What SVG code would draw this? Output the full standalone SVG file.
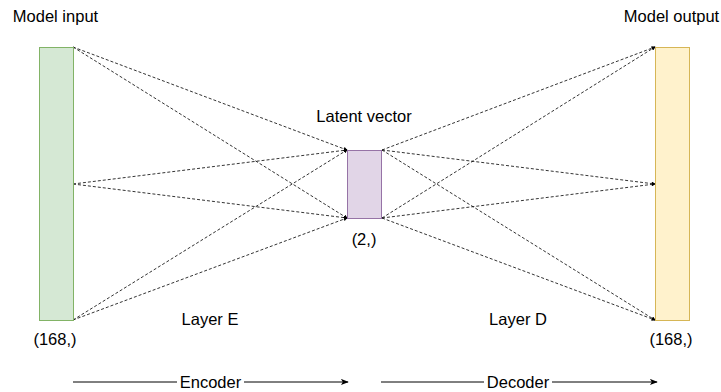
<svg xmlns="http://www.w3.org/2000/svg" width="721" height="392" viewBox="0 0 721 392">
<defs>
<marker id="sm" viewBox="0 0 6 6" refX="5" refY="3" markerWidth="4" markerHeight="4" orient="auto" markerUnits="userSpaceOnUse"><path d="M0,0 L6,3 L0,6 Z" fill="#000"/></marker>
<marker id="ar" viewBox="0 0 10 8" refX="9" refY="4" markerWidth="8" markerHeight="7" orient="auto" markerUnits="userSpaceOnUse"><path d="M0,0 L10,4 L0,8 L2.5,4 Z" fill="#000"/></marker>
<style>
text{font-family:"Liberation Sans",Arial,sans-serif;font-size:16.5px;fill:#000}
.d{stroke:#000;stroke-width:0.8;stroke-dasharray:3 2;fill:none;marker-end:url(#sm)}
.s{stroke:#000;stroke-width:1;fill:none;marker-end:url(#ar)}
</style>
</defs>
<rect width="721" height="392" fill="#fff"/>
<g id="connectors">
<line class="d" x1="73" y1="47" x2="347" y2="150"/>
<line class="d" x1="73" y1="47" x2="347" y2="218"/>
<line class="d" x1="73" y1="184" x2="347" y2="150"/>
<line class="d" x1="73" y1="184" x2="347" y2="218"/>
<line class="d" x1="73" y1="320" x2="347" y2="150"/>
<line class="d" x1="73" y1="320" x2="347" y2="218"/>
<line class="d" x1="382" y1="150" x2="655" y2="47"/>
<line class="d" x1="382" y1="150" x2="655" y2="184"/>
<line class="d" x1="382" y1="150" x2="655" y2="320"/>
<line class="d" x1="382" y1="218" x2="655" y2="47"/>
<line class="d" x1="382" y1="218" x2="655" y2="184"/>
<line class="d" x1="382" y1="218" x2="655" y2="320"/>
</g>
<g id="input">
<rect x="39.5" y="47.5" width="34" height="273" fill="#d5e8d4" stroke="#82b366"/>
<text x="55.5" y="22" text-anchor="middle">Model input</text>
<text x="55" y="345" text-anchor="middle">(168,)</text>
</g>
<g id="latent">
<rect x="347.5" y="150.5" width="34" height="68" fill="#e1d5e7" stroke="#9673a6"/>
<text x="364" y="122" text-anchor="middle">Latent vector</text>
<text x="364" y="245" text-anchor="middle">(2,)</text>
</g>
<g id="output">
<rect x="655.5" y="47.5" width="34" height="273" fill="#fff2cc" stroke="#d6b656"/>
<text x="671.5" y="22" text-anchor="middle">Model output</text>
<text x="671" y="345" text-anchor="middle">(168,)</text>
</g>
<g id="layerE"><text x="210" y="325" text-anchor="middle">Layer E</text></g>
<g id="layerD"><text x="518" y="325" text-anchor="middle">Layer D</text></g>
<g id="encoder">
<line class="s" x1="73" y1="382" x2="348" y2="382"/>
<rect x="177" y="372" width="67" height="20" fill="#fff"/>
<text x="210.5" y="388" text-anchor="middle">Encoder</text>
</g>
<g id="decoder">
<line class="s" x1="381" y1="382" x2="657" y2="382"/>
<rect x="484" y="372" width="68" height="20" fill="#fff"/>
<text x="518" y="388" text-anchor="middle">Decoder</text>
</g>
</svg>
